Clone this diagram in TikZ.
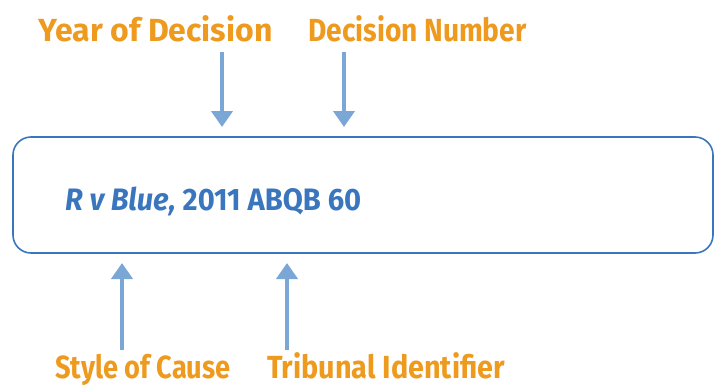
\documentclass[tikz,border=0pt]{standalone}
\usepackage{fontspec}
\usepackage{graphicx}
\setmainfont{Fira Sans}
\usetikzlibrary{arrows.meta}
\definecolor{lblorange}{HTML}{EE9A1E}
\definecolor{boxblue}{HTML}{3A76BE}
\definecolor{arrblue}{HTML}{7BA7D6}
\newcommand\narrowto[2]{\scalebox{#1}[1]{#2}}
\tikzset{
  lbl/.style={anchor=base west, inner sep=0pt, text=lblorange, font=\fontsize{32}{36}\selectfont\bfseries},
  cite/.style={anchor=base west, inner sep=0pt, text=boxblue, font=\fontsize{31}{36}\selectfont\bfseries},
  citebox/.style={draw=boxblue, line width=1.6pt, rounded corners=18pt},
  pointer/.style={draw=arrblue, line width=4pt, -{Triangle[width=21pt,length=16pt]}}
}
\begin{document}
\begin{tikzpicture}[x=1pt,y=-1pt]
\useasboundingbox (0,0) rectangle (718,386);
\draw[citebox] (13,137) rectangle (713,253);
\node[cite] (citation) at (65,210) {\narrowto{0.94}{\textit{R v Blue,} 2011 ABQB 60}};
\node[lbl] (year) at (38,41) {Year of Decision};
\node[lbl] (num) at (308,41) {\narrowto{0.88}{Decision Number}};
\node[lbl] (style) at (55,378) {\narrowto{0.85}{Style of Cause}};
\node[lbl] (trib) at (267,378) {\narrowto{0.90}{Tribunal Identifier}};
\coordinate (ys) at (222,52); \coordinate (yt) at (222,127);
\coordinate (ns) at (344,52); \coordinate (nt) at (344,127);
\coordinate (ss) at (122,350); \coordinate (st) at (122,263);
\coordinate (ts) at (287,350); \coordinate (tt) at (287,263);
\draw[pointer] (ys) -- (yt);
\draw[pointer] (ns) -- (nt);
\draw[pointer] (ss) -- (st);
\draw[pointer] (ts) -- (tt);
\end{tikzpicture}
\end{document}
